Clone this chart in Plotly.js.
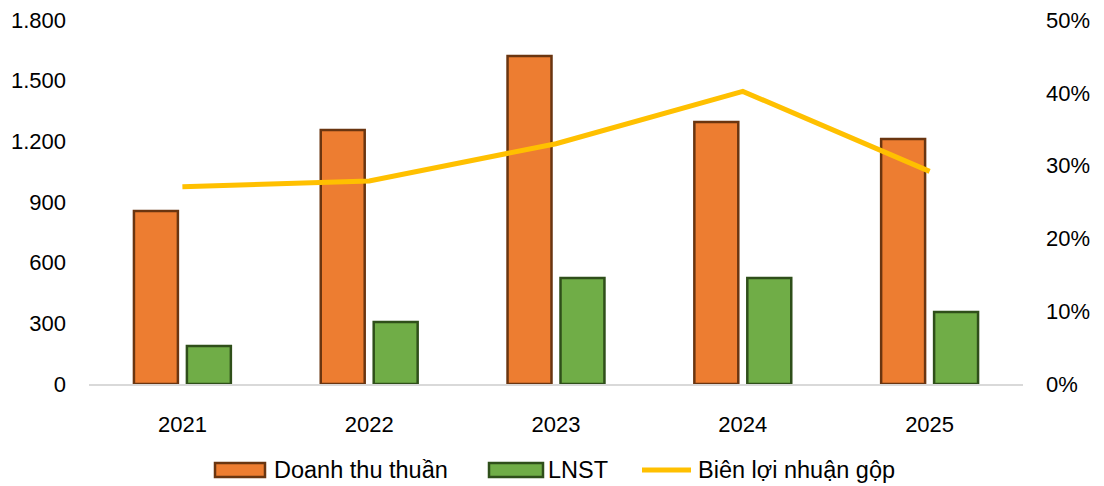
<!DOCTYPE html>
<html>
<head>
<meta charset="utf-8">
<script src="https://cdn.plot.ly/plotly-3.0.1.min.js"></script>
<style>html,body{margin:0;padding:0;background:#fff;}#chart{width:1104px;height:486px;}</style>
</head>
<body>
<div id="chart"></div>
<script>
const years = ['2021', '2022', '2023', '2024', '2025'];
const doanhThuThuan = [855, 1256, 1622, 1296, 1212];
const lnst = [188, 307, 524, 524, 356];
const bienLoiNhuanGop = [0.271, 0.279, 0.330, 0.402, 0.292];
const seriesNames = ['Doanh thu thuần', 'LNST', 'Biên lợi nhuận gộp'];

const FONT = 'Liberation Sans, Arial, sans-serif';
const FS = 22;
const COLORS = {rev: '#ED7D31', revLine: '#6A3510', np: '#70AD47', npLine: '#2F4F1A', gm: '#FFC000'};

// plot area in pixels (for the hand-made legend only)
const M = {l: 89, r: 81, t: 20, b: 102};
const PW = 1104 - M.l - M.r, PH = 486 - M.t - M.b;
const px = v => (v - M.l) / PW;
const py = v => (486 - M.b - v) / PH;

const traces = [
  {
    type: 'bar', name: seriesNames[0], x: years, y: doanhThuThuan,
    marker: {color: COLORS.rev, line: {color: COLORS.revLine, width: 2.5}},
    hoverinfo: 'none'
  },
  {
    type: 'bar', name: seriesNames[1], x: years, y: lnst,
    marker: {color: COLORS.np, line: {color: COLORS.npLine, width: 2.5}},
    hoverinfo: 'none'
  },
  {
    type: 'scatter', mode: 'lines', name: seriesNames[2], x: years, y: bienLoiNhuanGop,
    yaxis: 'y2', line: {color: COLORS.gm, width: 5}, hoverinfo: 'none'
  }
];

const LY = 470;
const shapes = [
  {type: 'rect', xref: 'paper', yref: 'paper', x0: px(215), x1: px(265), y0: py(463), y1: py(477),
   fillcolor: COLORS.rev, line: {color: COLORS.revLine, width: 2.5}},
  {type: 'rect', xref: 'paper', yref: 'paper', x0: px(489), x1: px(543), y0: py(463), y1: py(477),
   fillcolor: COLORS.np, line: {color: COLORS.npLine, width: 2.5}},
  {type: 'line', xref: 'paper', yref: 'paper', x0: px(642), x1: px(691), y0: py(LY), y1: py(LY),
   line: {color: COLORS.gm, width: 5}}
];
const legendFont = {family: FONT, size: 23.5, color: '#000'};
const annotations = [
  {xref: 'paper', yref: 'paper', x: px(272), y: py(LY), xanchor: 'left', yanchor: 'middle',
   text: seriesNames[0], showarrow: false, font: legendFont},
  {xref: 'paper', yref: 'paper', x: px(546), y: py(LY), xanchor: 'left', yanchor: 'middle',
   text: seriesNames[1], showarrow: false, font: legendFont},
  {xref: 'paper', yref: 'paper', x: px(696), y: py(LY), xanchor: 'left', yanchor: 'middle',
   text: seriesNames[2], showarrow: false, font: legendFont}
];

const layout = {
  width: 1104, height: 486,
  margin: M,
  paper_bgcolor: '#ffffff', plot_bgcolor: '#ffffff',
  font: {family: FONT, size: FS, color: '#000000'},
  separators: ',.',
  barmode: 'group', bargap: 0.433, bargroupgap: 0.17,
  showlegend: false,
  shapes: shapes,
  annotations: annotations,
  xaxis: {
    type: 'category', showgrid: false, zeroline: false,
    showline: true, linecolor: '#D9D9D9', linewidth: 1.5,
    ticks: '', ticklabelstandoff: 20,
    tickfont: {family: FONT, size: FS, color: '#000'}
  },
  yaxis: {
    range: [0, 1800], dtick: 300, tick0: 0, tickformat: ',',
    showgrid: false, zeroline: false, showline: false, ticks: '',
    ticklabelstandoff: 22,
    tickfont: {family: FONT, size: FS, color: '#000'}
  },
  yaxis2: {
    overlaying: 'y', side: 'right', range: [0, 0.5], dtick: 0.1, tick0: 0,
    tickformat: '.0%', showgrid: false, zeroline: false, showline: false, ticks: '',
    ticklabelstandoff: 22,
    tickfont: {family: FONT, size: FS, color: '#000'}
  }
};

Plotly.newPlot('chart', traces, layout, {displayModeBar: false, staticPlot: true});
</script>
</body>
</html>
